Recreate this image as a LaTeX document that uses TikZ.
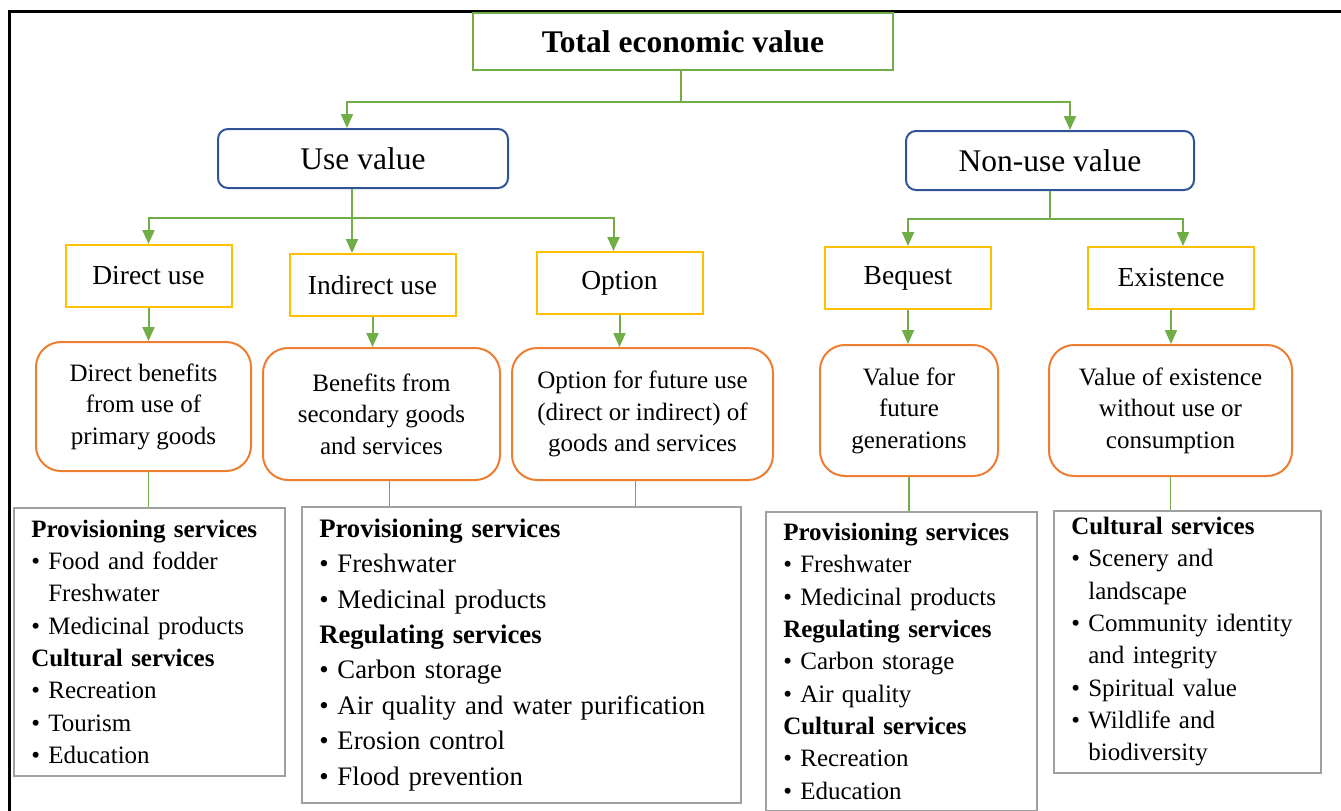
\documentclass[tikz,border=0pt]{standalone}
\usepackage{fontspec}
\setmainfont{Liberation Serif}
\usepackage{xcolor}
\usepackage{tikz}
\usetikzlibrary{arrows.meta}
\definecolor{tevgreen}{RGB}{112,173,71}
\definecolor{useblue}{RGB}{47,85,151}
\definecolor{kindyellow}{RGB}{255,192,0}
\definecolor{benorange}{RGB}{237,125,49}
\definecolor{listgray}{RGB}{160,160,160}
\newcommand{\bul}{\textbullet\ }
\newcommand{\ind}{\phantom{\textbullet\ }}

\begin{document}
\begin{tikzpicture}[x=1pt, y=-1pt,
  tev/.style={draw=tevgreen, line width=2pt, minimum width=420pt, minimum height=57pt, font=\fontsize{31.5}{36}\selectfont\bfseries},
  valbox/.style={draw=useblue, line width=2pt, rounded corners=10pt, minimum height=59pt, font=\fontsize{31.5}{36}\selectfont},
  kind/.style={draw=kindyellow, line width=2pt, minimum width=166pt, minimum height=62pt, font=\fontsize{27.5}{32}\selectfont},
  benefit/.style={draw=benorange, line width=2pt, rounded corners=25pt, align=center, font=\fontsize{25}{31.5}\selectfont},
  list/.style={draw=listgray, line width=1.5pt, anchor=north west, align=left, inner xsep=17.5pt, font=\fontsize{25}{32.3}\selectfont},
  link/.style={draw=tevgreen, line width=2pt},
  arr/.style={link, -{Triangle[length=14pt,width=12pt]}}]
	\useasboundingbox (0,0) rectangle (1341,811);
	\draw[line width=3pt] (1341,11) -- (9,11) -- (9,811);%
	% top levels
	\node[tev] (tev) at (683,41.5) {Total economic value};
	\node[valbox, minimum width=290pt] (use) at (363,158.5) {Use value};
	\node[valbox, minimum width=288pt] (nonuse) at (1050,160.5) {Non-use value};
	\node[kind] (direct) at (148.5,276) {Direct use};
	\node[kind] (indirect) at (372.5,285) {Indirect use};
	\node[kind] (option) at (619.5,283) {Option};
	\node[kind] (bequest) at (908,278) {Bequest};
	\node[kind] (existence) at (1171,278) {Existence};
	% benefits
	\node[benefit, minimum width=215pt, minimum height=129pt] (ben1) at (143.5,406.5) {Direct benefits\\from use of\\primary goods};
	\node[benefit, minimum width=237pt, minimum height=132pt] (ben2) at (381.5,414) {Benefits from\\secondary goods\\and services};
	\node[benefit, minimum width=261pt, minimum height=132pt] (ben3) at (642.5,414) {Option for future use\\(direct or indirect) of\\goods and services};
	\node[benefit, minimum width=178pt, minimum height=131pt] (ben4) at (909,410.5) {Value for\\future\\generations};
	\node[benefit, minimum width=243pt, minimum height=131pt] (ben5) at (1170.5,410.5) {Value of existence\\without use or\\consumption};
	% services
	\node[list, text width=236pt, minimum height=268pt] (list1) at (13,507) {\textbf{Provisioning services}\\ \bul Food and fodder\\ \ind Freshwater\\ \bul Medicinal products\\ \textbf{Cultural services}\\ \bul Recreation\\ \bul Tourism\\ \bul Education};
	\node[list, text width=404pt, minimum height=296pt, font=\fontsize{26.7}{35.4}\selectfont] (list2) at (301,506) {\textbf{Provisioning services}\\ \bul Freshwater\\ \bul Medicinal products\\ \textbf{Regulating services}\\ \bul Carbon storage\\ \bul Air quality and water purification\\ \bul Erosion control\\ \bul Flood prevention};
	\node[list, text width=236pt, minimum height=299pt] (list3) at (765,511) {\textbf{Provisioning services}\\ \bul Freshwater\\ \bul Medicinal products\\ \textbf{Regulating services}\\ \bul Carbon storage\\ \bul Air quality\\ \textbf{Cultural services}\\ \bul Recreation\\ \bul Education};
	\node[list, text width=232pt, minimum height=262pt] (list4) at (1053,510) {\textbf{Cultural services}\\ \bul Scenery and\\ \ind landscape\\ \bul Community identity\\ \ind and integrity\\ \bul Spiritual value\\ \bul Wildlife and\\ \ind biodiversity};
	% connectors
	\draw[link] ([xshift=-2pt]tev.south) -- ++(0,31) coordinate (t);
	\draw[arr] (t) -| ([xshift=-16pt]use.north);
	\draw[arr] (t) -| ([xshift=20pt]nonuse.north);
	\draw[link] ([xshift=-11pt]use.south) -- ++(0,29) coordinate (u);
	\draw[arr] (u) -| (direct.north);
	\draw[arr] (u) -- (u |- indirect.north);
	\draw[arr] (u) -| ([xshift=-6pt]option.north);
	\draw[link] (nonuse.south) -- ++(0,28) coordinate (n);
	\draw[arr] (n) -| (bequest.north);
	\draw[arr] (n) -| ([xshift=12pt]existence.north);
	\foreach \a/\b in {direct/ben1,indirect/ben2,option/ben3,bequest/ben4,existence/ben5}
	  \draw[arr] (\a.south) -- (\a.south |- \b.north);
	\foreach \a/\b/\s in {ben1/list1/5,ben2/list2/8,ben3/list2/-7,ben4/list3/0,ben5/list4/0}
	  \draw[link, line width=1.5pt] ([xshift=\s pt]\a.south) -- ([xshift=\s pt]\a.south |- \b.north);
\end{tikzpicture}
\end{document}
